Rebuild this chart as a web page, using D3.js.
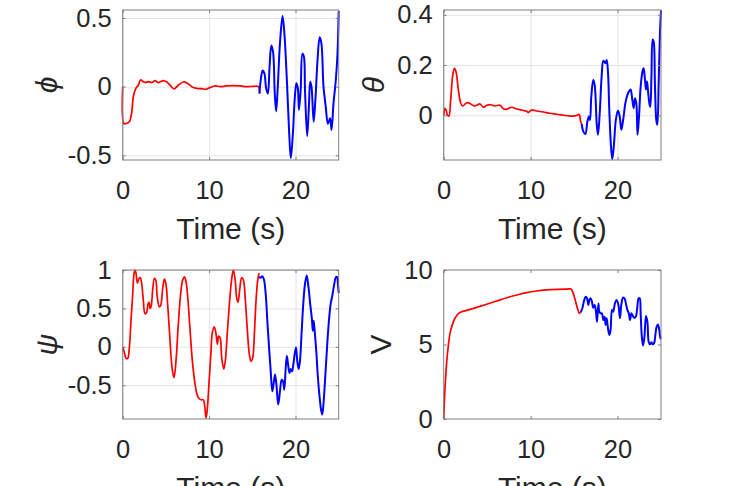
<!DOCTYPE html>
<html>
<head>
<meta charset="utf-8">
<script src="https://cdn.jsdelivr.net/npm/d3@7/dist/d3.min.js"></script>
<style>
  html, body { margin: 0; padding: 0; background: #ffffff; }
  svg { display: block; }
  text { font-family: "Liberation Sans", Arial, Helvetica, sans-serif; fill: #262626; }
</style>
</head>
<body>
<svg id="chart" width="730" height="486"></svg>
<script>
// ---------------- DATA ----------------
const xTicks = [0, 10, 20];
const xLabel = "Time (s)";

// phi : [time, value]
const phiRed = [[0,0],[0.15,-0.27],[0.46,-0.267],[0.77,-0.255],[1.04,-0.19],[1.24,-0.07],[1.54,-0.01],[1.8,0.01],[2.08,0.05],[2.3,0.04],[2.6,0.03],[3.0,0.036],[3.36,0.03],[3.75,0.044],[4.1,0.03],[4.7,0.044],[5.1,0.034],[5.56,0.005],[5.95,-0.017],[6.45,0.012],[7.03,0.034],[7.5,0.024],[8.0,0],[8.57,-0.012],[9.15,-0.015],[9.65,-0.019],[10.1,-0.007],[10.7,0.005],[11.3,0],[12.0,0.005],[12.8,0.007],[13.6,0.005],[14.4,0],[15.1,0.002],[15.7,0],[15.83,-0.05]];
const phiBlue = [[15.83,-0.05],[15.98,0.05],[16.2,0.117],[16.4,0.097],[16.6,-0.012],[16.8,-0.05],[17.0,0.146],[17.2,0.30],[17.4,0.255],[17.6,-0.05],[17.76,-0.18],[17.95,0],[18.2,0.315],[18.5,0.515],[18.7,0.40],[19.0,0.05],[19.27,-0.34],[19.46,-0.52],[19.7,-0.34],[19.9,-0.097],[20.1,0.024],[20.27,-0.012],[20.4,-0.17],[20.6,-0.024],[20.8,0.24],[20.97,0.22],[21.1,-0.024],[21.35,-0.36],[21.55,-0.146],[21.7,0.036],[21.85,0],[22.1,-0.255],[22.3,-0.097],[22.55,0.194],[22.8,0.36],[23.0,0.315],[23.24,0],[23.5,-0.146],[23.75,-0.27],[24.0,-0.23],[24.17,-0.315],[24.4,-0.12],[24.67,0.05],[24.86,0.24],[25.0,0.55]];
const phiTicks = [-0.5, 0, 0.5];
const phiTickLabels = ["-0.5", "0", "0.5"];
const phiRange = [-0.534, 0.558];

// theta
const thetaRed = [[0,0],[0.15,0.028],[0.3,0.019],[0.42,0.001],[0.6,-0.003],[0.8,0.06],[1.04,0.16],[1.23,0.187],[1.42,0.173],[1.69,0.1],[1.96,0.048],[2.19,0.037],[2.65,0.05],[3.1,0.045],[3.5,0.037],[3.8,0.04],[4.18,0.045],[4.56,0.032],[4.95,0.04],[5.4,0.042],[5.9,0.037],[6.48,0.04],[6.86,0.026],[7.25,0.024],[7.8,0.032],[8.4,0.025],[8.97,0.021],[9.55,0.016],[9.74,0.011],[10.1,0.021],[10.7,0.017],[11.46,0.013],[12.2,0.008],[13.0,0.004],[13.77,0],[14.5,-0.003],[15.3,-0.001],[15.57,0.004],[15.76,-0.025],[15.87,-0.034]];
const thetaBlue = [[15.87,-0.034],[16.07,-0.065],[16.3,-0.075],[16.53,-0.025],[16.7,-0.005],[16.83,-0.019],[16.98,0.074],[17.2,0.14],[17.37,0.12],[17.6,-0.032],[17.75,-0.078],[17.95,0.008],[18.17,0.154],[18.37,0.217],[18.6,0.207],[18.75,0.22],[18.9,0.173],[19.05,0.021],[19.25,-0.125],[19.4,-0.175],[19.6,-0.111],[19.8,-0.019],[20.05,0.019],[20.25,-0.005],[20.44,-0.058],[20.67,-0.012],[20.9,0.048],[21.13,0.08],[21.36,0.098],[21.5,0.103],[21.7,0.061],[21.86,0.028],[22.0,0.068],[22.16,0.048],[22.3,-0.078],[22.47,-0.005],[22.66,0.114],[22.9,0.18],[23.0,0.187],[23.16,0.14],[23.27,0.103],[23.39,0.134],[23.5,0.1],[23.66,0.048],[23.77,0.034],[23.9,0.154],[24.04,0.302],[24.16,0.293],[24.3,0.127],[24.46,-0.019],[24.58,-0.038],[24.73,0.127],[24.88,0.326],[25.0,0.418]];
const thetaTicks = [0, 0.2, 0.4];
const thetaTickLabels = ["0", "0.2", "0.4"];
const thetaRange = [-0.178, 0.419];

// psi
const psiRed = [[0,0],[0.19,-0.075],[0.39,-0.15],[0.58,-0.15],[0.77,-0.01],[0.96,0.34],[1.16,0.69],[1.31,0.95],[1.43,1.0],[1.54,0.96],[1.7,0.83],[1.89,0.89],[2.04,0.9],[2.2,0.82],[2.39,0.6],[2.58,0.43],[2.78,0.45],[2.93,0.56],[3.05,0.58],[3.16,0.5],[3.28,0.52],[3.47,0.74],[3.66,0.89],[3.82,0.87],[4.0,0.65],[4.24,0.52],[4.4,0.54],[4.63,0.76],[4.82,0.88],[5.0,0.82],[5.2,0.56],[5.48,0.08],[5.71,-0.27],[5.94,-0.4],[6.17,-0.18],[6.44,0.3],[6.71,0.69],[6.94,0.87],[7.14,0.91],[7.33,0.85],[7.56,0.6],[7.8,0.21],[8.06,-0.18],[8.33,-0.45],[8.56,-0.6],[8.8,-0.67],[9.07,-0.69],[9.34,-0.69],[9.5,-0.78],[9.65,-0.93],[9.8,-0.8],[10.0,-0.45],[10.2,-0.1],[10.38,0.19],[10.6,0.26],[10.8,0.17],[10.96,0.035],[11.1,0.14],[11.27,0.12],[11.46,-0.14],[11.7,-0.29],[11.88,-0.18],[12.1,0.17],[12.35,0.56],[12.58,0.85],[12.8,1.0],[13.0,0.89],[13.2,0.63],[13.35,0.58],[13.54,0.74],[13.77,0.9],[13.97,0.87],[14.2,0.6],[14.43,0.21],[14.66,-0.1],[14.85,-0.19],[15.05,-0.14],[15.24,0.17],[15.43,0.6],[15.63,0.87],[15.78,0.96]];
const psiBlue = [[15.78,0.91],[15.97,0.9],[16.16,0.92],[16.36,0.87],[16.55,0.69],[16.74,0.34],[16.94,-0.01],[17.13,-0.32],[17.32,-0.58],[17.48,-0.47],[17.63,-0.36],[17.79,-0.49],[18.0,-0.75],[18.2,-0.58],[18.4,-0.43],[18.56,-0.45],[18.7,-0.56],[18.87,-0.27],[19.0,-0.12],[19.14,-0.23],[19.3,-0.34],[19.44,-0.29],[19.6,-0.32],[19.75,-0.23],[19.9,-0.1],[20.06,-0.01],[20.2,-0.18],[20.37,-0.29],[20.52,-0.18],[20.7,0.17],[20.9,0.56],[21.1,0.82],[21.3,0.93],[21.5,0.78],[21.7,0.56],[21.9,0.36],[22.0,0.21],[22.1,0.34],[22.2,0.23],[22.4,-0.05],[22.57,-0.36],[22.76,-0.62],[22.96,-0.82],[23.1,-0.88],[23.26,-0.71],[23.46,-0.36],[23.65,-0.01],[23.84,0.3],[24.07,0.56],[24.27,0.67],[24.46,0.8],[24.65,0.9],[24.8,0.91],[24.92,0.8],[25.0,0.7]];
const psiTicks = [-0.5, 0, 0.5, 1];
const psiTickLabels = ["-0.5", "0", "0.5", "1"];
const psiRange = [-0.94, 1.0];

// V
const vRed = [[0,0],[0.15,2.06],[0.35,3.85],[0.54,4.97],[0.73,5.75],[1.0,6.35],[1.3,6.76],[1.69,7.07],[2.07,7.2],[2.65,7.29],[3.8,7.49],[4.95,7.7],[6.1,7.92],[7.25,8.14],[8.4,8.32],[9.55,8.48],[10.7,8.59],[11.85,8.66],[13.0,8.7],[14.15,8.72],[14.65,8.72],[14.9,8.43],[15.18,7.87],[15.41,7.38],[15.6,7.09],[15.76,7.16]];
const vBlue = [[15.76,7.16],[15.95,7.43],[16.14,7.92],[16.33,8.21],[16.49,8.1],[16.64,7.65],[16.76,7.99],[16.9,8.1],[17.06,7.87],[17.2,7.47],[17.37,7.65],[17.52,7.2],[17.64,6.53],[17.8,7.76],[17.9,7.2],[18.06,7.09],[18.2,7.09],[18.37,6.64],[18.52,6.87],[18.63,6.31],[18.75,6.76],[18.9,6.09],[19.06,5.64],[19.2,5.97],[19.36,7.32],[19.5,7.2],[19.7,7.76],[19.9,7.99],[20.1,7.65],[20.28,6.76],[20.44,7.7],[20.63,8.14],[20.8,8.1],[21.0,7.65],[21.13,7.32],[21.3,7.09],[21.43,6.64],[21.6,7.09],[21.74,6.94],[21.9,6.8],[22.1,6.87],[22.24,7.32],[22.43,8.1],[22.55,8.1],[22.66,7.09],[22.78,5.64],[22.93,4.92],[23.08,5.41],[23.27,6.91],[23.43,6.53],[23.58,5.19],[23.73,5.01],[23.9,5.15],[24.04,5.01],[24.2,5.08],[24.35,5.64],[24.5,6.2],[24.65,6.35],[24.8,5.97],[24.92,5.46],[25.0,5.37]];
const vTicks = [0, 5, 10];
const vTickLabels = ["0", "5", "10"];
const vRange = [0, 10];

// ---------------- LAYOUT ----------------
const svg = d3.select("#chart");
const panels = [
  { red: phiRed, blue: phiBlue, ticks: phiTicks, labels: phiTickLabels, range: phiRange, ylab: "\u03D5", italic: true,
    x0: 122.7, x1: 338.7, y0: 10, y1: 160, ylabX: 46, grid: true },
  { red: thetaRed, blue: thetaBlue, ticks: thetaTicks, labels: thetaTickLabels, range: thetaRange, ylab: "\u03B8", italic: true,
    x0: 443.7, x1: 661, y0: 10, y1: 160, ylabX: 373.5, grid: true },
  { red: psiRed, blue: psiBlue, ticks: psiTicks, labels: psiTickLabels, range: psiRange, ylab: "\u03C8", italic: true,
    x0: 122.7, x1: 338.7, y0: 270, y1: 419, ylabX: 46, grid: true },
  { red: vRed, blue: vBlue, ticks: vTicks, labels: vTickLabels, range: vRange, ylab: "V", italic: false,
    x0: 443.7, x1: 661, y0: 270, y1: 419, ylabX: 380, grid: false }
];

const tickFont = 25.5;
const labelFont = 30;
const axisColor = "#7f7f7f";

panels.forEach(p => {
  const x = d3.scaleLinear().domain([0, 25]).range([p.x0, p.x1]);
  const y = d3.scaleLinear().domain(p.range).range([p.y1, p.y0]);
  const w = p.x1 - p.x0, h = p.y1 - p.y0;
  const g = svg.append("g");

  // grid
  if (p.grid) {
    const gx = g.append("g").attr("transform", `translate(0,${p.y1})`)
      .call(d3.axisBottom(x).tickValues(xTicks).tickSize(-h).tickFormat(""));
    const gy = g.append("g").attr("transform", `translate(${p.x0},0)`)
      .call(d3.axisLeft(y).tickValues(p.ticks).tickSize(-w).tickFormat(""));
    [gx, gy].forEach(a => {
      a.select(".domain").remove();
      a.selectAll(".tick line").attr("stroke", "#e3e3e3").attr("stroke-width", 1);
    });
  }

  // lines
  const line = d3.line().x(d => x(d[0])).y(d => y(d[1])).curve(d3.curveCatmullRom.alpha(0.5));
  g.append("path").datum(p.red).attr("d", line)
    .attr("fill", "none").attr("stroke", "#ff0000").attr("stroke-width", 1.7).attr("stroke-linejoin", "round");
  g.append("path").datum(p.blue).attr("d", line)
    .attr("fill", "none").attr("stroke", "#0000ff").attr("stroke-width", 2).attr("stroke-linejoin", "round");

  // axes (inward ticks)
  const ax = g.append("g").attr("transform", `translate(0,${p.y1})`)
    .call(d3.axisBottom(x).tickValues(xTicks).tickSizeInner(-3).tickSizeOuter(0).tickPadding(21).tickFormat(d3.format("d")));
  const ay = g.append("g").attr("transform", `translate(${p.x0},0)`)
    .call(d3.axisLeft(y).tickValues(p.ticks).tickSizeInner(-3).tickSizeOuter(0).tickPadding(11)
      .tickFormat((d, i) => p.labels[i]));
  const at = g.append("g").attr("transform", `translate(0,${p.y0})`)
    .call(d3.axisTop(x).tickValues(xTicks).tickSizeInner(-3).tickSizeOuter(0).tickFormat(""));
  const ar = g.append("g").attr("transform", `translate(${p.x1},0)`)
    .call(d3.axisRight(y).tickValues(p.ticks).tickSizeInner(-3).tickSizeOuter(0).tickFormat(""));
  [ax, ay, at, ar].forEach(a => {
    a.select(".domain").remove();
    a.selectAll(".tick line").attr("stroke", axisColor);
    a.selectAll(".tick text").attr("font-size", tickFont)
      .attr("font-family", '"Liberation Sans", Arial, sans-serif').attr("fill", "#262626");
  });

  // box
  g.append("rect").attr("x", p.x0).attr("y", p.y0).attr("width", w).attr("height", h)
    .attr("fill", "none").attr("stroke", axisColor).attr("stroke-width", 1);

  // x label
  g.append("text").attr("x", (p.x0 + p.x1) / 2).attr("y", p.y1 + 79)
    .attr("text-anchor", "middle").attr("font-size", labelFont).text(xLabel);

  // y label
  g.append("text")
    .attr("transform", `translate(${p.ylabX},${(p.y0 + p.y1) / 2}) rotate(-90)`)
    .attr("text-anchor", "middle").attr("dominant-baseline", "central")
    .attr("font-size", labelFont)
    .attr("font-style", p.italic ? "italic" : "normal")
    .attr("font-family", p.italic ? '"Liberation Serif", "DejaVu Serif", serif' : '"Liberation Sans", Arial, sans-serif')
    .text(p.ylab);
});
</script>
</body>
</html>
